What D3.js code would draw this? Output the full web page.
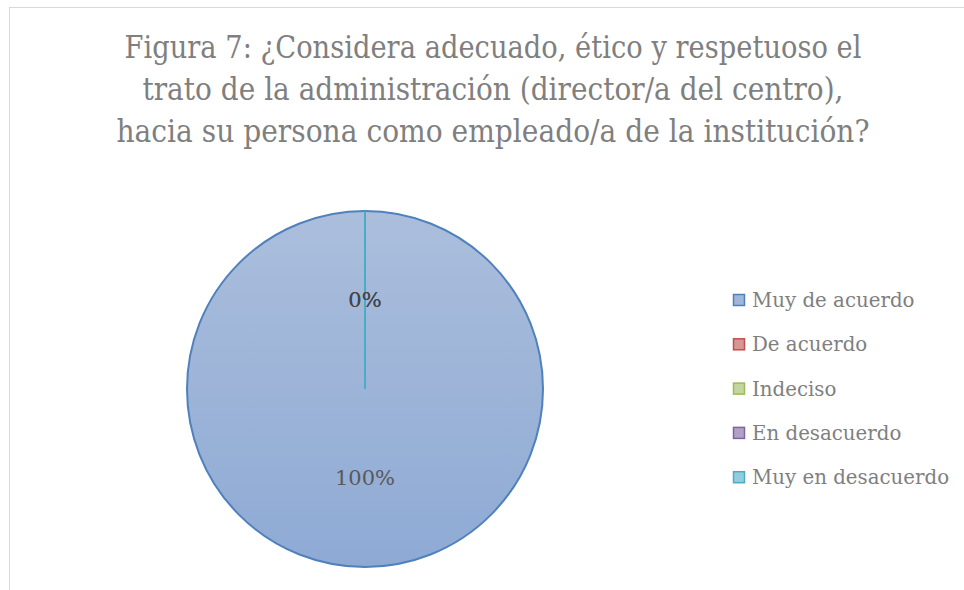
<!DOCTYPE html>
<html>
<head>
<meta charset="utf-8">
<script src="https://cdn.jsdelivr.net/npm/d3@7"></script>
<style>
  body { margin: 0; background: #fff; }
  text { font-family: 'DejaVu Serif', 'Liberation Serif', serif; }
</style>
</head>
<body>
<script>
const categories = ['Muy de acuerdo', 'De acuerdo', 'Indeciso', 'En desacuerdo', 'Muy en desacuerdo'];
const values = [100, 0, 0, 0, 0];
const titleLines = [
    'Figura 7: ¿Considera adecuado, ético y respetuoso el',
    'trato de la administración (director/a del centro),',
    'hacia su persona como empleado/a de la institución?'
];
const titleWidths = [737, 701, 753];

const fills = ['#a0b5d9', '#d99594', '#c3d69b', '#b2a1c7', '#93cddd'];
const strokes = ['#4f81bd', '#c0504d', '#9bbb59', '#8064a2', '#4bacc6'];

const width = 964, height = 590;
const cx = 365, cy = 389, radius = 178;

const svg = d3.select('body')
    .append('svg')
    .attr('width', width)
    .attr('height', height);

// chart frame
svg.append('rect')
    .attr('x', 9.5)
    .attr('y', 7.5)
    .attr('width', width)
    .attr('height', height)
    .attr('fill', '#fff')
    .attr('stroke', '#d9d9d9');

const defs = svg.append('defs');
const grad = defs.append('linearGradient')
    .attr('id', 'g0')
    .attr('x1', 0).attr('y1', 0)
    .attr('x2', 0).attr('y2', 1);
grad.append('stop').attr('offset', '0%').attr('stop-color', '#abbedc');
grad.append('stop').attr('offset', '100%').attr('stop-color', '#8eaad4');

svg.selectAll('.title')
    .data(titleLines)
    .enter()
    .append('text')
    .attr('class', 'title')
    .attr('x', 493)
    .attr('y', (d, i) => 58 + i * 42)
    .attr('text-anchor', 'middle')
    .attr('font-size', 31)
    .attr('textLength', (d, i) => titleWidths[i])
    .attr('lengthAdjust', 'spacingAndGlyphs')
    .attr('fill', '#7f7f7f')
    .text(d => d);

const pie = d3.pie().sort(null).value(d => d);
const arcs = pie(values);
const arc = d3.arc().innerRadius(0).outerRadius(radius);

const g = svg.append('g')
    .attr('transform', 'translate(' + cx + ',' + cy + ')');

g.selectAll('.slice')
    .data(arcs)
    .enter()
    .append('path')
    .attr('class', 'slice')
    .attr('d', arc)
    .attr('fill', (d, i) => i === 0 ? 'url(#g0)' : fills[i])
    .attr('stroke', (d, i) => strokes[i])
    .attr('stroke-width', 2);

// zero-size slices still show their edge
g.selectAll('.zero')
    .data(arcs.filter(d => d.value === 0).slice(-1))
    .enter()
    .append('line')
    .attr('x1', 0).attr('y1', 0)
    .attr('x2', d => radius * Math.sin(d.startAngle))
    .attr('y2', d => -radius * Math.cos(d.startAngle))
    .attr('stroke', '#4bacc6')
    .attr('stroke-width', 2);

const labelArc = d3.arc().innerRadius(radius * 0.5).outerRadius(radius * 0.5);

g.selectAll('.lbl')
    .data(arcs)
    .enter()
    .append('text')
    .attr('class', 'lbl')
    .attr('transform', d => 'translate(' + labelArc.centroid(d) + ')')
    .attr('text-anchor', 'middle')
    .attr('dy', '0.35em')
    .attr('font-size', 21)
    .attr('fill', d => d.value === 0 ? '#404040' : '#595959')
    .attr('fill-opacity', d => d.value === 0 ? 0.55 : 1)
    .text(d => d.value + '%');

const legend = svg.selectAll('.leg')
    .data(categories)
    .enter()
    .append('g')
    .attr('class', 'leg')
    .attr('transform', (d, i) => 'translate(733,' + (300 + i * 44.3) + ')');

legend.append('rect')
    .attr('x', 0.5)
    .attr('y', -5.5)
    .attr('width', 11)
    .attr('height', 11)
    .attr('fill', (d, i) => fills[i])
    .attr('stroke', (d, i) => strokes[i])
    .attr('stroke-width', 1.5);

legend.append('text')
    .attr('x', 19)
    .attr('dy', '0.35em')
    .attr('font-size', 19.8)
    .attr('fill', '#7f7f7f')
    .text(d => d);
</script>
</body>
</html>
